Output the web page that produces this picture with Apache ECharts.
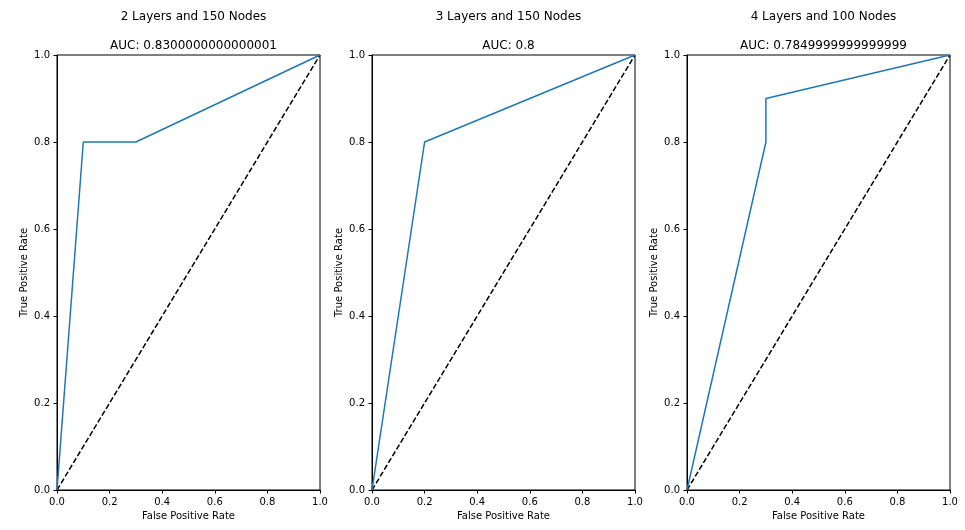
<!DOCTYPE html>
<html><head><meta charset="utf-8">
<script src="https://cdn.jsdelivr.net/npm/echarts@6/dist/echarts.min.js"></script>
<style>html,body{margin:0;padding:0;background:#fff}#c{width:965px;height:530px}</style>
</head><body><div id="c"></div>
<script>
const panelTitles = ["2 Layers and 150 Nodes", "3 Layers and 150 Nodes", "4 Layers and 100 Nodes"];
const aucLabels = ["AUC: 0.8300000000000001", "AUC: 0.8", "AUC: 0.7849999999999999"];
const fpr1 = [0, 0.1, 0.3, 1];
const tpr1 = [0, 0.8, 0.8, 1];
const fpr2 = [0, 0.2, 1];
const tpr2 = [0, 0.8, 1];
const fpr3 = [0, 0.3, 0.3, 1];
const tpr3 = [0, 0.8, 0.9, 1];
const diagX = [0, 1];
const diagY = [0, 1];
const tickValues = [0, 0.2, 0.4, 0.6, 0.8, 1.0];
const xLabel = "False Positive Rate";
const yLabel = "True Positive Rate";

const fprs = [fpr1, fpr2, fpr3];
const tprs = [tpr1, tpr2, tpr3];
const lefts = [57, 372, 687];
const W = 263, TOP = 55, H = 435;
const font = "DejaVu Sans";

const grids = [], xAxes = [], yAxes = [], series = [], titles = [];
for (let i = 0; i < 3; i++) {
  grids.push({left: lefts[i], top: TOP, width: W, height: H, show: true, borderColor: '#000', borderWidth: 1, backgroundColor: 'transparent'});
  const axCommon = {
    type: 'value', min: 0, max: 1, interval: 0.2, gridIndex: i,
    splitLine: {show: false},
    axisLine: {show: true, onZero: false, lineStyle: {color: '#000', width: 1}},
    axisTick: {show: true, inside: false, length: 3.5, lineStyle: {color: '#000'}},
    axisLabel: {color: '#000', fontFamily: font, fontSize: 10, formatter: v => v.toFixed(1), margin: 7},
    nameLocation: 'middle',
    nameTextStyle: {color: '#000', fontFamily: font, fontSize: 10}
  };
  xAxes.push(Object.assign({}, axCommon, {name: xLabel, nameGap: 20}));
  yAxes.push(Object.assign({}, axCommon, {name: yLabel, nameGap: 28}));
  series.push({
    type: 'line', xAxisIndex: i, yAxisIndex: i, symbol: 'none', silent: true,
    data: fprs[i].map((x, k) => [x, tprs[i][k]]),
    lineStyle: {color: '#1f77b4', width: 1.5}, z: 3
  });
  series.push({
    type: 'line', xAxisIndex: i, yAxisIndex: i, symbol: 'none', silent: true,
    data: diagX.map((x, k) => [x, diagY[k]]),
    lineStyle: {color: '#000', width: 1.5, type: [5.5, 2.4]}, z: 2
  });
  const cx = lefts[i] + W / 2;
  titles.push({text: panelTitles[i], left: cx, top: 6, textAlign: 'center',
    textStyle: {fontFamily: font, fontSize: 12, fontWeight: 'normal', color: '#000'}});
  titles.push({text: aucLabels[i], left: cx, top: 35, textAlign: 'center',
    textStyle: {fontFamily: font, fontSize: 12, fontWeight: 'normal', color: '#000'}});
}

const chart = echarts.init(document.getElementById('c'), null, {renderer: 'canvas'});
chart.setOption({
  animation: false,
  backgroundColor: '#fff',
  title: titles,
  grid: grids,
  xAxis: xAxes,
  yAxis: yAxes,
  series: series
});
</script>
</body></html>
